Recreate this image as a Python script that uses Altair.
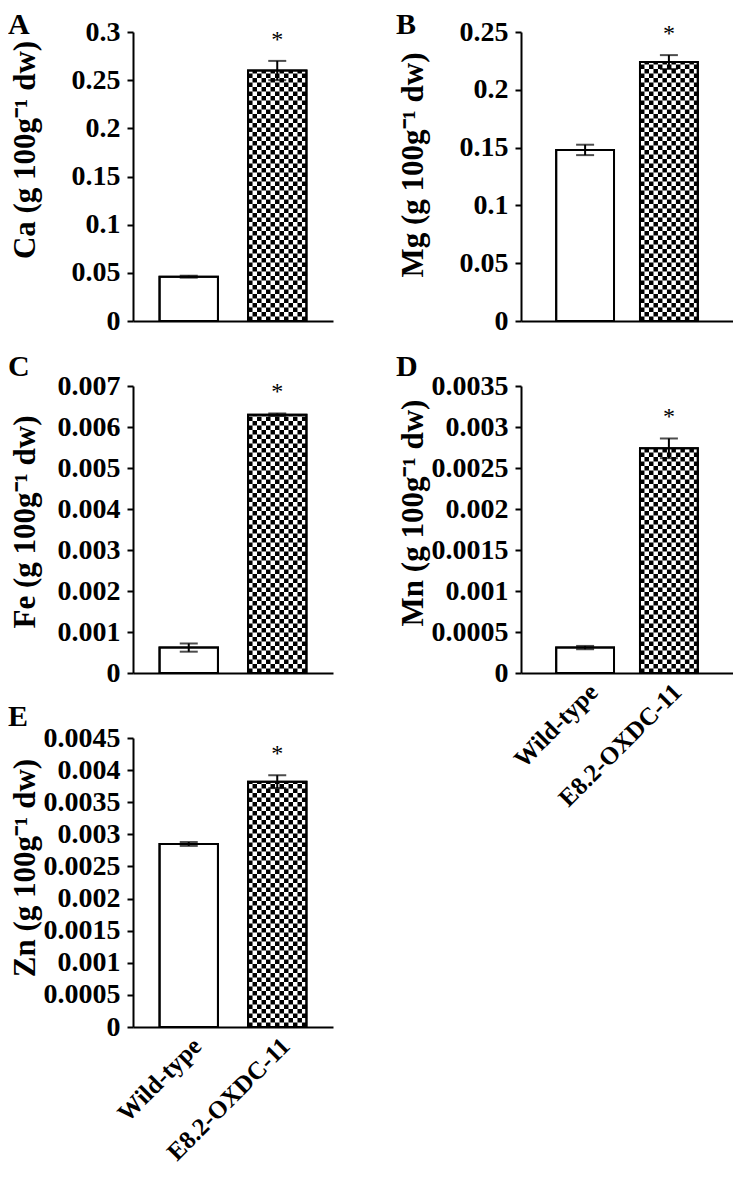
import altair as alt
import pandas as pd
import math

groups = ["Wild-type", "E8.2-OXDC-11"]

ca_mean = [0.046, 0.260]
ca_err = [0.001, 0.010]
mg_mean = [0.148, 0.224]
mg_err = [0.0045, 0.006]
fe_mean = [0.00062, 0.0063]
fe_err = [0.0001, 0.00003]
mn_mean = [0.00031, 0.00274]
mn_err = [0.00002, 0.00012]
zn_mean = [0.00285, 0.00382]
zn_err = [0.00003, 0.0001]

ca_ticks = [0, 0.05, 0.1, 0.15, 0.2, 0.25, 0.3]
mg_ticks = [0, 0.05, 0.1, 0.15, 0.2, 0.25]
fe_ticks = [0, 0.001, 0.002, 0.003, 0.004, 0.005, 0.006, 0.007]
mn_ticks = [0, 0.0005, 0.001, 0.0015, 0.002, 0.0025, 0.003, 0.0035]
zn_ticks = [0, 0.0005, 0.001, 0.0015, 0.002, 0.0025, 0.003, 0.0035, 0.004, 0.0045]

FONT = "Liberation Serif"
CELL_PX = 4.5
CELL_COLS = 13


def panel(letter, letter_y, title, title_shift, means, errs, ticks, width, height, pin, pout, show_x):
    dmax = ticks[-1]
    df = pd.DataFrame({"group": groups, "mean": means, "err": errs})
    df["lo"] = df["mean"] - df["err"]
    df["hi"] = df["mean"] + df["err"]

    # checkerboard cells for the transgenic bar (pattern fill emulation)
    h = CELL_PX * dmax / height
    val = means[1]
    nrows = int(math.ceil(val / h))
    cells = []
    for r in range(nrows):
        for c in range(CELL_COLS):
            if (r + c) % 2 == 0:
                cells.append({"group": groups[1], "col": c,
                              "y0": r * h, "y1": min((r + 1) * h, val)})
    cdf = pd.DataFrame(cells)

    xaxis = alt.Axis(title=None, ticks=False, labels=show_x, labelAngle=315,
                     labelFontSize=25, labelPadding=6)
    xenc = alt.X("group:N", sort=groups,
                 scale=alt.Scale(paddingInner=pin, paddingOuter=pout), axis=xaxis)
    yscale = alt.Scale(domain=[0, dmax], nice=False, zero=True)
    yaxis = alt.Axis(values=ticks, format="~g", title=title, titleX=-99,
                     titleY=height / 2 + title_shift, titleAngle=270, titleAlign="center",
                     titleBaseline="alphabetic", tickSize=6, labelPadding=7)

    def Y(f):
        return alt.Y(f, scale=yscale, axis=yaxis)

    base = alt.Chart(df)
    bars = base.mark_bar(fill="white", stroke="black", strokeWidth=2).encode(x=xenc, y=Y("mean:Q"))
    checker = alt.Chart(cdf).mark_bar(color="black", strokeWidth=0).encode(
        x=xenc,
        xOffset=alt.XOffset("col:O", scale=alt.Scale(paddingInner=0, paddingOuter=0)),
        y=Y("y0:Q"), y2="y1:Q")
    outline = base.mark_bar(fillOpacity=0, stroke="black", strokeWidth=2).encode(x=xenc, y=Y("mean:Q"))
    rule = base.mark_rule(color="black", strokeWidth=2).encode(x=xenc, y=Y("lo:Q"), y2="hi:Q")
    cap_lo = base.mark_tick(color="black", thickness=2, size=18).encode(x=xenc, y=Y("lo:Q"))
    cap_hi = base.mark_tick(color="black", thickness=2, size=18).encode(x=xenc, y=Y("hi:Q"))
    star = base.transform_filter(alt.datum.group == groups[1]).mark_text(
        text="*", font=FONT, fontSize=24, fontWeight="normal", dy=-14,
        baseline="alphabetic").encode(x=xenc, y=Y("hi:Q"))
    lab = alt.Chart(pd.DataFrame({"l": [letter]})).mark_text(
        font=FONT, fontSize=30, fontWeight="bold", align="left",
        baseline="alphabetic").encode(x=alt.value(-125), y=alt.value(letter_y), text="l:N")
    return alt.layer(bars, checker, outline, rule, cap_lo, cap_hi, star, lab).properties(
        width=width, height=height)


pA = panel("A", 2, "Ca (g 100g⁻¹ dw)", -27, ca_mean, ca_err, ca_ticks, 200, 289, 0.34, 0.3, False)
pB = panel("B", 2, "Mg (g 100g⁻¹ dw)", -12, mg_mean, mg_err, mg_ticks, 212, 289, 0.31, 0.42, False)
pC = panel("C", -10, "Fe (g 100g⁻¹ dw)", -8, fe_mean, fe_err, fe_ticks, 200, 287, 0.34, 0.3, False)
pD = panel("D", -10, "Mn (g 100g⁻¹ dw)", -17, mn_mean, mn_err, mn_ticks, 212, 287, 0.31, 0.42, True)
pE = panel("E", -12, "Zn (g 100g⁻¹ dw)", -15, zn_mean, zn_err, zn_ticks, 200, 289, 0.34, 0.3, True)

chart = alt.concat(pA, pB, pC, pD, pE, columns=2, bounds="flush",
                   spacing={"row": 65, "column": 188}).properties(
    padding={"top": 2, "left": 0, "right": 0, "bottom": 0}).configure_view(
    stroke=None).configure_axis(
    labelFont=FONT, labelFontWeight="bold", labelFontSize=28, labelColor="black",
    titleFont=FONT, titleFontWeight="bold", titleFontSize=31, titleColor="black",
    domainColor="black", domainWidth=2, tickColor="black", tickWidth=2, grid=False)

chart.save("out.html", embed_options={"renderer": "svg", "actions": False})
